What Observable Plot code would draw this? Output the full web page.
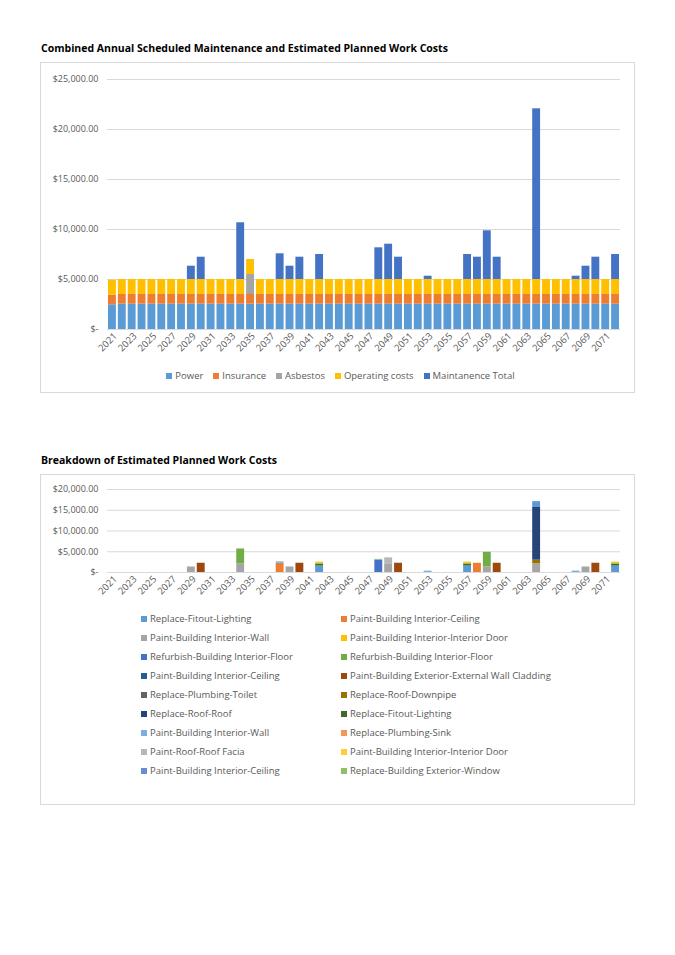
<!DOCTYPE html>
<html><head><meta charset="utf-8">
<script src="https://cdn.jsdelivr.net/npm/d3@7"></script>
<script src="https://cdn.jsdelivr.net/npm/@observablehq/plot@0.6"></script>
<style>
body{margin:0;background:#fff;width:675px;height:955px;position:relative;font-family:"Open Sans",sans-serif;overflow:hidden;}
.title{position:absolute;left:41px;font-weight:700;font-size:10.5px;color:#000;white-space:nowrap;line-height:12px;}
.box{position:absolute;left:40px;width:593px;border:1px solid #d9d9d9;}
.abs{position:absolute;}
.tl-swatches{min-height:0 !important;justify-content:center;}
.tl-swatch{margin-right:10px !important;white-space:nowrap;}
.tl-swatch svg{margin-right:3px !important;}
.bl-swatches{min-height:0 !important;}
.bl-swatch{width:200px;height:19px;margin-right:0 !important;white-space:nowrap;overflow:visible;}
.bl-swatch svg{margin-right:3px !important;}
</style>
</head><body>
<div class="title" style="top:42px">Combined Annual Scheduled Maintenance and Estimated Planned Work Costs</div>
<div class="box" style="top:62px;height:329px"></div>
<div class="title" style="top:454px">Breakdown of Estimated Planned Work Costs</div>
<div class="box" style="top:474px;height:329px"></div>
<div id="c1" class="abs" style="left:40px;top:62px"></div>
<div id="l1" class="abs" style="left:48px;top:369px;width:595px"></div>
<div id="c2" class="abs" style="left:40px;top:474px"></div>
<div id="l2" class="abs" style="left:141px;top:609px;width:400px"></div>
<script>
// ---------- data ----------
const years = [2021,2022,2023,2024,2025,2026,2027,2028,2029,2030,2031,2032,2033,2034,2035,2036,2037,2038,2039,2040,2041,2042,2043,2044,2045,2046,2047,2048,2049,2050,2051,2052,2053,2054,2055,2056,2057,2058,2059,2060,2061,2062,2063,2064,2065,2066,2067,2068,2069,2070,2071,2072];
const labelYears = [2021,2023,2025,2027,2029,2031,2033,2035,2037,2039,2041,2043,2045,2047,2049,2051,2053,2055,2057,2059,2061,2063,2065,2067,2069,2071];

const power = [2470,2530,2530,2530,2530,2530,2530,2530,2530,2530,2530,2530,2530,2530,2530,2530,2530,2530,2530,2530,2530,2530,2530,2530,2530,2530,2530,2530,2530,2530,2530,2530,2530,2530,2530,2530,2530,2530,2530,2530,2530,2530,2530,2530,2530,2530,2530,2530,2530,2530,2530,2530];
const insurance = [960,970,970,970,970,970,970,970,970,970,970,970,970,970,970,970,970,970,970,970,970,970,970,970,970,970,970,970,970,970,970,970,970,970,970,970,970,970,970,970,970,970,970,970,970,970,970,970,970,970,970,970];
const asbestos = [0,0,0,0,0,0,0,0,0,0,0,0,0,0,2000,0,0,0,0,0,0,0,0,0,0,0,0,0,0,0,0,0,0,0,0,0,0,0,0,0,0,0,0,0,0,0,0,0,0,0,0,0];
const operating = [1500,1500,1500,1500,1500,1500,1500,1500,1500,1500,1500,1500,1500,1500,1500,1500,1500,1500,1500,1500,1500,1500,1500,1500,1500,1500,1500,1500,1500,1500,1500,1500,1500,1500,1500,1500,1500,1500,1500,1500,1500,1500,1500,1500,1500,1500,1500,1500,1500,1500,1500,1500];
const maintenance = [0,0,0,0,0,0,0,0,1330,2230,0,0,0,5670,0,0,0,2570,1330,2230,0,2500,0,0,0,0,0,3170,3530,2230,0,0,330,0,0,0,2500,2230,4870,2230,0,0,0,17070,0,0,0,330,1330,2230,0,2500];

const costSeries = ["Power","Insurance","Asbestos","Operating costs","Maintanence Total"];
const costColors = ["#5B9BD5","#ED7D31","#A5A5A5","#FFC000","#4472C4"];
const costTicks = [0,5000,10000,15000,20000,25000];

const itemIds = ["s1","s2","s3","s4","s5","s6","s7","s8","s9","s10","s11","s12","s13","s14","s15","s16","s17","s18"];
const itemNames = ["Replace-Fitout-Lighting","Paint-Building Interior-Ceiling","Paint-Building Interior-Wall","Paint-Building Interior-Interior Door","Refurbish-Building Interior-Floor","Refurbish-Building Interior-Floor","Paint-Building Interior-Ceiling","Paint-Building Exterior-External Wall Cladding","Replace-Plumbing-Toilet","Replace-Roof-Downpipe","Replace-Roof-Roof","Replace-Fitout-Lighting","Paint-Building Interior-Wall","Replace-Plumbing-Sink","Paint-Roof-Roof Facia","Paint-Building Interior-Interior Door","Paint-Building Interior-Ceiling","Replace-Building Exterior-Window"];
const itemColors = ["#5B9BD5","#ED7D31","#A5A5A5","#FFC000","#4472C4","#70AD47","#255E91","#9E480E","#636363","#997300","#264478","#43682B","#7CAFDD","#F1975A","#B7B7B7","#FFCD33","#698ED0","#8CC168"];

const planYear = [2029,2030,2034,2034,2038,2038,2039,2040,2042,2042,2042,2042,2048,2048,2049,2049,2050,2053,2057,2057,2057,2057,2058,2059,2059,2060,2064,2064,2064,2064,2068,2069,2070,2072,2072,2072,2072];
const planItem = ["s3","s8","s3","s6","s2","s13","s3","s8","s1","s12","s18","s4","s5","s18","s3","s15","s8","s13","s1","s12","s18","s4","s2","s3","s6","s8","s3","s10","s11","s1","s13","s3","s8","s1","s12","s18","s4"];
const planCost = [1330,2230,2100,3570,2230,340,1330,2230,1550,400,250,300,3000,170,2100,1430,2230,330,1550,400,250,300,2230,1330,3540,2230,2100,870,12700,1400,330,1330,2230,1550,400,250,300];
const planTicks = [0,5000,10000,15000,20000];

// ---------- build tables ----------
const costArrays = [power, insurance, asbestos, operating, maintenance];
const costData = [];
years.forEach((y, i) => costSeries.forEach((s, k) => costData.push({year: y, series: s, value: costArrays[k][i]})));
const planData = planYear.map((y, i) => ({year: y, item: planItem[i], value: planCost[i]}));

const money = v => v === 0 ? "$-" : "$" + d3.format(",.2f")(v);
const font = {fontFamily: "'Open Sans', sans-serif", fontSize: "9px", color: "#595959", background: "transparent", overflow: "visible"};

function chart(data, opts) {
  return Plot.plot({
    width: 595, height: opts.height,
    marginLeft: 67, marginRight: 15, marginTop: opts.top, marginBottom: opts.bottom,
    style: font,
    x: {type: "band", domain: years, paddingInner: 0.2, paddingOuter: 0.1, label: null},
    y: {domain: opts.domain, label: null},
    color: {domain: opts.colorDomain, range: opts.colorRange},
    marks: [
      Plot.gridY(opts.ticks, {stroke: "#d9d9d9", strokeOpacity: 1}),
      Plot.barY(data, {x: "year", y: "value", fill: opts.z, z: opts.z}),
      Plot.ruleY([0], {stroke: "#d9d9d9"}),
      Plot.axisY(opts.ticks, {tickSize: 0, tickPadding: 9, tickFormat: money, fill: "#595959", fontSize: 9}),
      Plot.axisX(labelYears, {tickSize: 0, tickPadding: 5, tickRotate: -45, tickFormat: d => String(d), fill: "#595959", fontSize: 9.5, dx: 3})
    ]
  });
}

document.getElementById("c1").append(chart(costData, {height: 305, top: 17, bottom: 38, domain: [0, 25000], ticks: costTicks, z: "series", colorDomain: costSeries, colorRange: costColors}));
document.getElementById("c2").append(chart(planData, {height: 136, top: 15, bottom: 38, domain: [0, 20000], ticks: planTicks, z: "item", colorDomain: itemIds, colorRange: itemColors}));

document.getElementById("l1").append(Plot.legend({
  color: {domain: costSeries, range: costColors},
  className: "tl", swatchSize: 6,
  style: {fontFamily: "'Open Sans', sans-serif", fontSize: "9.5px", color: "#595959"}
}));
const nameOf = Object.fromEntries(itemIds.map((id, i) => [id, itemNames[i]]));
document.getElementById("l2").append(Plot.legend({
  color: {domain: itemIds, range: itemColors},
  tickFormat: id => nameOf[id],
  className: "bl", swatchSize: 6,
  style: {fontFamily: "'Open Sans', sans-serif", fontSize: "9.5px", color: "#595959"}
}));
</script>
</body></html>
